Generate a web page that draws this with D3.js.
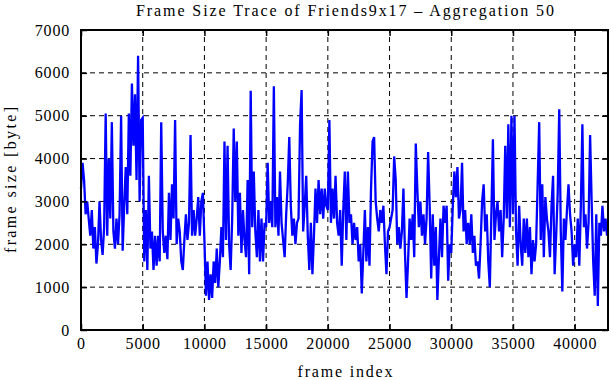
<!DOCTYPE html>
<html><head><meta charset="utf-8">
<script src="https://cdn.jsdelivr.net/npm/d3@7"></script>
<style>
body{margin:0;background:#fff;}
text{font-family:"Liberation Serif","Times New Roman",serif;}
</style></head>
<body><svg id="c" width="611" height="380"></svg>
<script>
const title = "Frame Size Trace of Friends9x17 \u2013 Aggregation 50";
const xLabel = "frame index";
const yLabel = "frame size [byte]";
const xTicks = [0,5000,10000,15000,20000,25000,30000,35000,40000];
const yTicks = [0,1000,2000,3000,4000,5000,6000,7000];
const frameStep = 125;
const frameSizes = [
3300,3900,3500,2700,3000,2600,2200,2800,1900,2400,1550,2000,3000,2100,1750,2400,5050,2200,4000,2600,
4850,2300,1900,2600,2000,2700,5000,1850,2900,3800,2700,5050,3600,5750,4300,5500,3500,6400,3000,4900,
4950,1600,2800,1400,3600,1900,2300,1400,2200,1500,2200,1600,4850,2300,1800,2200,1650,3200,2100,3400,
2600,4900,2000,2600,2300,1600,1400,2100,2700,2100,2500,4550,2200,2800,2200,2600,3100,2200,3000,3200,
2100,800,1600,700,1300,750,1600,1100,1900,1000,1600,2400,1700,4400,2100,4300,2000,1400,2600,4700,
3000,4400,2200,3200,1800,2800,2100,1700,3500,1300,5580,2400,3700,2300,1700,2800,1600,2600,1600,2500,
2400,3900,2500,3000,2400,5690,2400,3100,2200,3700,2500,2100,1700,2700,3400,4500,2900,2200,2600,2000,
2500,2600,4800,5600,2300,2900,3600,2200,1400,2500,1300,2200,3300,2500,3500,2700,3300,2600,3300,2900,
2800,4900,2500,3300,2600,3600,2500,2200,2800,1500,2800,3700,2100,3700,2500,2700,2000,2500,2100,2400,
1600,2000,850,1800,2800,1600,2400,1500,3300,4400,4500,3000,2600,2300,2800,2500,2900,2000,1300,2300,
2400,2600,2800,4050,3500,2000,2400,1900,2300,3300,1800,750,1600,2600,2100,2700,1700,4350,3300,2400,
3000,2200,2700,2000,2600,4150,2900,1200,2700,1500,2400,700,1700,2600,1700,2900,2500,2900,1150,2000,
1800,2900,3700,3100,3800,2600,2800,3900,2300,2800,2000,2500,2000,2700,1800,2200,1500,1600,1200,2000,
3000,3400,2300,2700,1600,1000,2700,4450,2100,2700,3000,2300,2800,1700,2600,4300,2600,4800,2400,5000,
2700,5000,2300,1500,2900,2000,1500,2600,1800,2600,1700,2400,1300,2100,1600,2000,3400,4850,2100,3400,
1700,3100,2600,2300,1700,2900,3600,1300,2200,3200,5150,2300,900,2600,2100,2800,3400,2700,2300,1500,
2000,1700,2600,1500,2900,4800,2400,2700,1900,2500,4550,3000,1600,800,2700,560,2500,2200,2900,2300,
2600,2200
];
const data = frameSizes.map((v,i)=>({frame:i*frameStep, size:v}));

const svg = d3.select("#c");
const m = {l:81, r:3, t:30, b:50};
const W = 611, H = 380;
const x = d3.scaleLinear().domain([0,42700]).range([m.l, W-m.r]);
const y = d3.scaleLinear().domain([0,7000]).range([H-m.b, m.t]);

// grid
const g = svg.append("g");
g.selectAll(".gx").data(xTicks.filter(t=>t>0)).enter().append("line")
 .attr("x1",d=>x(d)).attr("x2",d=>x(d)).attr("y1",y(0)).attr("y2",y(7000))
 .attr("stroke","#000").attr("stroke-width",1).attr("stroke-dasharray","5,4");
g.selectAll(".gy").data(yTicks.filter(t=>t>0&&t<7000)).enter().append("line")
 .attr("y1",d=>y(d)).attr("y2",d=>y(d)).attr("x1",x(0)).attr("x2",x(42700))
 .attr("stroke","#000").attr("stroke-width",1).attr("stroke-dasharray","5,4");

// data line
svg.append("path").datum(data)
 .attr("d", d3.line().x(d=>x(d.frame)).y(d=>y(d.size)))
 .attr("fill","none").attr("stroke","#0000ff").attr("stroke-width",2.3).attr("stroke-linejoin","miter");

// axes
const xAxis = d3.axisBottom(x).tickValues(xTicks).tickSize(-6).tickPadding(8).tickFormat(d3.format("d"));
const yAxis = d3.axisLeft(y).tickValues(yTicks).tickSize(-6).tickPadding(11).tickFormat(d3.format("d"));
const xa = svg.append("g").attr("transform",`translate(0,${y(0)})`).call(xAxis);
const ya = svg.append("g").attr("transform",`translate(${x(0)},0)`).call(yAxis);
const xt = svg.append("g").attr("transform",`translate(0,${y(7000)})`).call(d3.axisTop(x).tickValues(xTicks).tickSize(-6).tickFormat(""));
const yr = svg.append("g").attr("transform",`translate(${x(42700)},0)`).call(d3.axisRight(y).tickValues(yTicks).tickSize(-6).tickFormat(""));
[xa,ya,xt,yr].forEach(a=>{
  a.select(".domain").remove();
  a.selectAll("line").attr("stroke","#000").attr("stroke-width",1.5);
  a.selectAll("text").attr("fill","#000").style("font-size","16px").style("letter-spacing","0.8px")
   .style("font-family","'Liberation Serif',serif");
});
svg.append("rect").attr("x",x(0)).attr("y",y(7000)).attr("width",x(42700)-x(0)).attr("height",y(0)-y(7000))
 .attr("fill","none").attr("stroke","#000").attr("stroke-width",2);

svg.append("text").attr("x",345).attr("y",16).attr("text-anchor","middle").style("font-size","16px")
 .attr("textLength",418).attr("lengthAdjust","spacing").text(title);
svg.append("text").attr("x",345).attr("y",377).attr("text-anchor","middle").style("font-size","16px")
 .attr("textLength",95).attr("lengthAdjust","spacing").text(xLabel);
svg.append("text").attr("transform","translate(16,180) rotate(-90)").attr("text-anchor","middle").style("font-size","16px")
 .attr("textLength",146).attr("lengthAdjust","spacing").text(yLabel);
</script></body></html>
